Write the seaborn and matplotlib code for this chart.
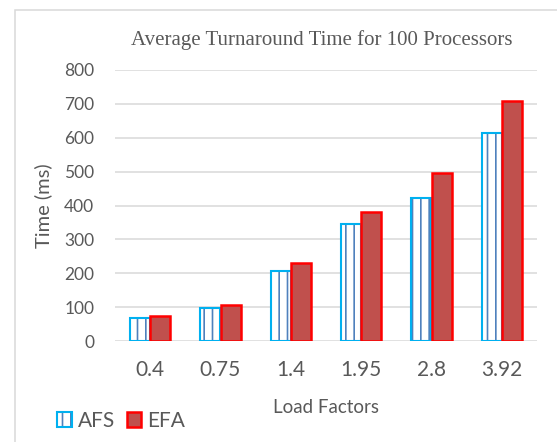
import matplotlib
matplotlib.use("Agg")
import matplotlib.pyplot as plt
from matplotlib.colors import to_rgba
from matplotlib.patches import Rectangle
import pandas as pd
import seaborn as sns

# Data
load_factors = ["0.4", "0.75", "1.4", "1.95", "2.8", "3.92"]
afs_times = [67, 96, 207, 345, 421, 615]
efa_times = [73, 106, 229, 382, 497, 708]
series_names = ["AFS", "EFA"]
y_ticks = [0, 100, 200, 300, 400, 500, 600, 700, 800]

df = pd.DataFrame({
    "Load Factors": load_factors * 2,
    "Time (ms)": afs_times + efa_times,
    "Series": [series_names[0]] * len(load_factors) + [series_names[1]] * len(load_factors),
})

sns.set_theme(style="white")
plt.rcParams["font.family"] = ["Lato", "DejaVu Sans"]
plt.rcParams["hatch.linewidth"] = 1.2

TEXT = "#595959"
GRID = "#D9D9D9"
W, H = 557, 442

fig = plt.figure(figsize=(W / 100, H / 100), dpi=100)
ax = fig.add_axes([115 / W, 1 - 341 / H, (537 - 115) / W, (341 - 70) / H])

sns.barplot(data=df, x="Load Factors", y="Time (ms)", hue="Series",
            order=load_factors, hue_order=series_names,
            palette={"AFS": "white", "EFA": "#C0504D"},
            width=0.57, saturation=1, legend=False, ax=ax)

# AFS: white bars with blue vertical stripes; EFA: solid red-brown with red edge
for bar in ax.containers[0]:
    bar.set_facecolor("white")
    bar.set_edgecolor("#00B0F0")
    bar.set_linewidth(1.5)
    bar.set_hatch("||")
    bar._hatch_color = to_rgba("#4F81BD")
for bar in ax.containers[1]:
    bar.set_facecolor("#C0504D")
    bar.set_edgecolor("#FF0000")
    bar.set_linewidth(1.8)

ax.set_ylim(0, 800)
ax.set_yticks(y_ticks)
ax.set_xlim(-0.5, len(load_factors) - 0.5)
ax.set_axisbelow(True)
ax.yaxis.grid(True, color=GRID, linewidth=1.1)
ax.xaxis.grid(False)
for s in ax.spines.values():
    s.set_visible(False)

ax.tick_params(axis="both", length=0, labelcolor=TEXT)
ax.tick_params(axis="y", labelsize=12.5, pad=15)
ax.tick_params(axis="x", labelsize=15, pad=14)

ax.set_xlabel("Load Factors", fontsize=13.5, color=TEXT)
ax.xaxis.label.set_verticalalignment("center")
ax.xaxis.set_label_coords(0.5, (341 - 407.5) / 271)
ax.set_ylabel("Time (ms)", fontsize=14.5, color=TEXT)
ax.yaxis.label.set_verticalalignment("center")
ax.yaxis.set_label_coords((43 - 115) / 422, (341 - 206) / 271)

fig.text(322 / W, 1 - 40 / H, "Average Turnaround Time for 100 Processors",
         ha="center", va="center", fontsize=15, color=TEXT,
         family=["Liberation Serif", "DejaVu Serif"])

fig.legend(handles=[ax.containers[0][0], ax.containers[1][0]], labels=series_names,
           loc="center left", bbox_to_anchor=(57 / W, 1 - 421 / H),
           ncol=2, frameon=False, borderpad=0, borderaxespad=0,
           handlelength=0.7, handleheight=0.7, handletextpad=0.3,
           columnspacing=0.55, fontsize=15, labelcolor=TEXT)

# Chart area outline
fig.add_artist(Rectangle((15 / W, -0.2), 1.2, 1.2 - 10 / H,
                         transform=fig.transFigure, fill=False,
                         edgecolor=GRID, linewidth=1.1, clip_on=False))

fig.savefig("out.png", dpi=100, facecolor="white")
